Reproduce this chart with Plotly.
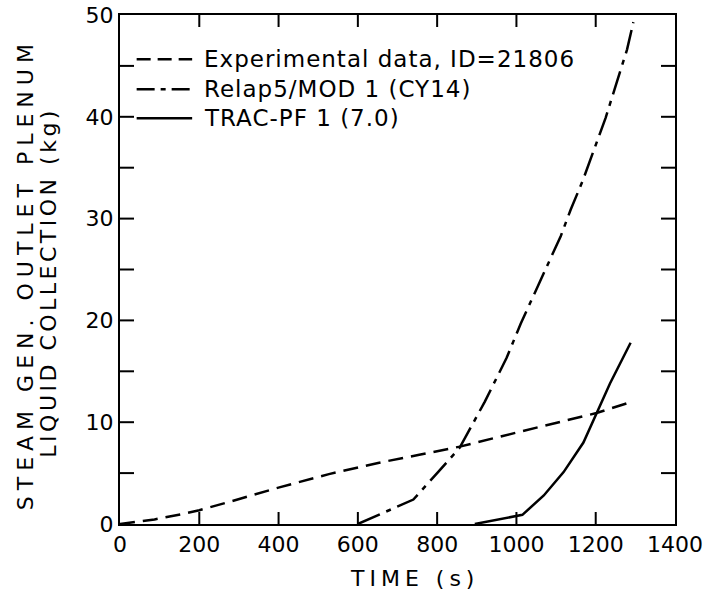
import plotly.graph_objects as go

# Liquid collected in the steam generator outlet plenum, kg versus time, s
exp_t = [0, 87, 154, 200, 278, 402, 527, 651, 755, 857, 1002, 1100, 1202, 1290]
exp_m = [0, 0.45, 0.95, 1.35, 2.2, 3.6, 4.9, 6.0, 6.8, 7.6, 9.0, 9.9, 10.9, 12.0]

relap_t = [600, 740, 800, 857, 920, 975, 1011, 1040, 1080, 1112, 1137, 1167,
           1196, 1225, 1254, 1279, 1295]
relap_m = [0, 2.4, 5.0, 7.5, 12.0, 16.3, 19.7, 22.2, 25.5, 28.3, 30.9, 33.7,
           36.8, 39.9, 43.5, 46.6, 49.3]

trac_t = [895, 1015, 1069, 1119, 1169, 1202, 1236, 1288]
trac_m = [0, 0.9, 2.8, 5.1, 8.0, 10.9, 13.8, 17.8]

x_range = [0, 1400]
y_range = [0, 50]
x_ticks = list(range(0, 1401, 200))
y_ticks = list(range(0, 51, 5))
y_labels = [str(v) if v % 10 == 0 else "" for v in y_ticks]

legend_labels = ["Experimental data, ID=21806", "Relap5/MOD 1 (CY14)", "TRAC-PF 1 (7.0)"]

FONT = "DejaVu Sans"
LW = 2.5
TICK = dict(color="black", width=2)


def spaced(text, px):
    """Wrap text in a span with extra tracking between letters."""
    return f'<span style="letter-spacing:{px}px">{text}</span>'


fig = go.Figure()
fig.add_trace(go.Scatter(x=exp_t, y=exp_m, mode="lines",
                         line=dict(color="black", width=LW, dash="15px,8px")))
fig.add_trace(go.Scatter(x=relap_t, y=relap_m, mode="lines",
                         line=dict(color="black", width=LW, dash="24px,7px,5px,7px")))
fig.add_trace(go.Scatter(x=trac_t, y=trac_m, mode="lines",
                         line=dict(color="black", width=LW)))

frame = dict(showline=True, linewidth=2, linecolor="black", mirror=True,
             ticks="", showgrid=False, zeroline=False, automargin=False)
fig.update_layout(
    xaxis=dict(range=x_range, tickvals=x_ticks, **frame),
    yaxis=dict(range=y_range, tickvals=y_ticks, ticktext=y_labels, **frame),
)

# inward tick marks on all four sides of the frame (pixel-length, placed on the axis scale)
for t in x_ticks[1:-1]:
    fig.add_shape(type="line", xref="x", yref="y", x0=t, x1=t,
                  ysizemode="pixel", yanchor=y_range[0], y0=0, y1=12, line=TICK)
    fig.add_shape(type="line", xref="x", yref="y", x0=t, x1=t,
                  ysizemode="pixel", yanchor=y_range[1], y0=-12, y1=0, line=TICK)
for v in y_ticks[1:-1]:
    fig.add_shape(type="line", xref="x", yref="y", y0=v, y1=v,
                  xsizemode="pixel", xanchor=x_range[0], x0=0, x1=14, line=TICK)
    fig.add_shape(type="line", xref="x", yref="y", y0=v, y1=v,
                  xsizemode="pixel", xanchor=x_range[1], x0=-14, x1=0, line=TICK)

# hand-drawn key in the upper-left corner
key_x0, key_x1, key_text_x = 0.03, 0.13, 0.147
key_rows = [0.913, 0.854, 0.797]
key_dash = ["14px,7px", "18px,6px,5px,6px", "solid"]
for label, yy, dash in zip(legend_labels, key_rows, key_dash):
    fig.add_shape(type="line", xref="paper", yref="paper",
                  x0=key_x0, x1=key_x1, y0=yy, y1=yy,
                  line=dict(color="black", width=LW, dash=dash))
    fig.add_annotation(xref="paper", yref="paper", x=key_text_x, y=yy,
                       xanchor="left", yanchor="middle", align="left", showarrow=False,
                       text=spaced(label, 1), font=dict(family=FONT, size=23, color="black"))

# axis titles
fig.add_annotation(xref="paper", yref="paper", x=0.53, y=-0.108,
                   xanchor="center", yanchor="middle", showarrow=False,
                   text=spaced("TIME (s)", 5), font=dict(family=FONT, size=22, color="black"))
fig.add_annotation(xref="paper", yref="paper", x=-0.17, y=0.49, textangle=-90,
                   xanchor="center", yanchor="middle", showarrow=False,
                   text=spaced("STEAM GEN. OUTLET PLENUM", 6),
                   font=dict(family=FONT, size=22, color="black"))
fig.add_annotation(xref="paper", yref="paper", x=-0.128, y=0.476, textangle=-90,
                   xanchor="center", yanchor="middle", showarrow=False,
                   text=spaced("LIQUID COLLECTION (kg)", 3.5),
                   font=dict(family=FONT, size=22, color="black"))

fig.update_layout(width=719, height=593,
                  margin=dict(l=120, r=44, t=15, b=69),
                  paper_bgcolor="white", plot_bgcolor="white",
                  showlegend=False,
                  font=dict(family=FONT, size=22, color="black"))

fig.write_html("out.html")
